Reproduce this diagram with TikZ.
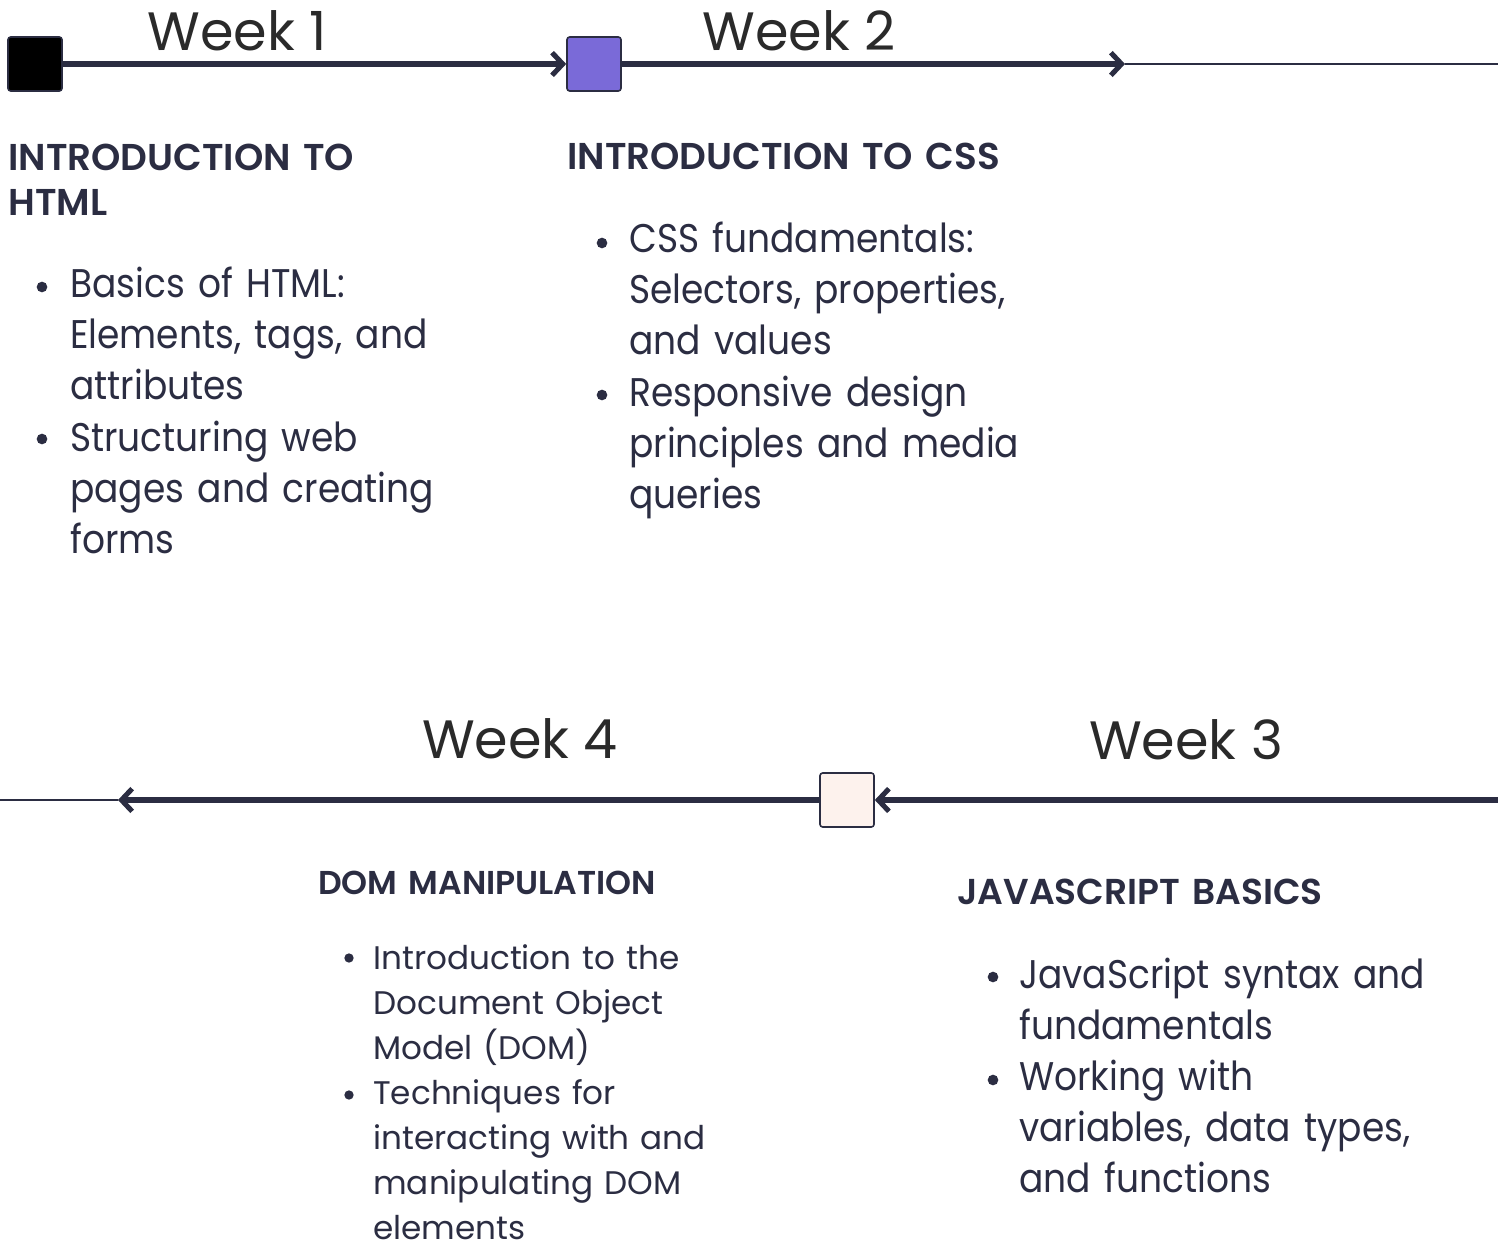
\documentclass[tikz,border=0pt]{standalone}
\usepackage{fontspec}
\setmainfont{Poppins}
\newfontfamily\bodyfont[FakeStretch=0.9]{Poppins}
\newfontfamily\headfont{Poppins SemiBold}
\usetikzlibrary{arrows.meta,positioning}

\definecolor{navy}{RGB}{43,45,66}
\definecolor{weekgray}{RGB}{42,42,42}
\definecolor{lilac}{RGB}{122,106,216}
\definecolor{blush}{RGB}{253,242,237}

\tikzset{
  marker/.style={draw=navy, line width=1.2pt, rounded corners=2pt, minimum size=40.5pt, inner sep=0pt},
  weeklbl/.style={font=\fontsize{40.5}{48}\selectfont, text=weekgray, anchor=base, inner sep=0pt},
  headlbl/.style={font=\headfont\fontsize{28}{33.75}\selectfont, text=navy, anchor=base west,
    inner sep=0pt, text width=400pt, align=left},
  itemlbl/.style={font=\bodyfont\fontsize{30}{38.25}\selectfont, text=navy, anchor=base west,
    inner sep=0pt, text width=400pt, align=left},
  dot/.style={circle, fill=navy, inner sep=0pt, minimum size=8pt},
  thickln/.style={draw=navy, line width=3.8pt, -{Straight Barb[length=8pt,width=17pt]}},
  thinln/.style={draw=navy, line width=1.5pt},
}

\begin{document}
\begin{tikzpicture}[x=0.75pt, y=-0.75pt]
  \useasboundingbox (0,0) rectangle (1498,1244);

  % markers on the timeline
  \node[marker, fill=black] (sq1) at (35,64) {};
  \node[marker, fill=lilac] (sq2) at (594,64) {};
  \node[marker, fill=blush] (sq3) at (847,800) {};
  \coordinate (end2) at (1125,64);
  \coordinate (right2) at (1498,64);
  \coordinate (right3) at (1498,800);
  \coordinate (end4) at (118,800);
  \coordinate (left4) at (0,800);

  \draw[thickln] (sq1) -- (sq2);
  \draw[thickln] (sq2) -- (end2);
  \draw[thinln] (end2) -- (right2);
  \draw[thickln] (right3) -- (sq3);
  \draw[thickln] (sq3) -- (end4);
  \draw[thinln] (end4) -- (left4);

  % week labels
  \node[weeklbl] (wk1) at (237,51) {Week 1};
  \node[weeklbl] (wk2) at (799,51) {Week 2};
  \node[weeklbl] (wk3) at (1186,759) {Week 3};
  \node[weeklbl] (wk4) at (520,758) {Week 4};

  % week 1
  \node[headlbl] (h1) at (8,171) {INTRODUCTION TO\\HTML};
  \node[itemlbl] (i11) at (70,298) {Basics of HTML:\\Elements, tags, and\\attributes};
  \node[itemlbl] (i12) at (70,451) {Structuring web\\pages and creating\\forms};
  \node[dot] (d11) at (42,287) {};
  \node[dot] (d12) at (42,439) {};

  % week 2
  \node[headlbl] (h2) at (567,170) {INTRODUCTION TO CSS};
  \node[itemlbl] (i21) at (629,253) {CSS fundamentals:\\Selectors, properties,\\and values};
  \node[itemlbl] (i22) at (629,406) {Responsive design\\principles and media\\queries};
  \node[dot] (d21) at (602,243) {};
  \node[dot] (d22) at (602,395) {};

  % week 3
  \node[headlbl, font=\headfont\fontsize{27}{33.75}\selectfont] (h3) at (957,904) {JAVASCRIPT BASICS};
  \node[itemlbl] (i31) at (1019,988) {JavaScript syntax and\\fundamentals};
  \node[itemlbl] (i32) at (1019,1090) {Working with\\variables, data types,\\and functions};
  \node[dot] (d31) at (993,977) {};
  \node[dot] (d32) at (993,1080) {};

  % week 4
  \node[headlbl, font=\headfont\fontsize{24.8}{28}\selectfont] (h4) at (318,894) {DOM MANIPULATION};
  \node[itemlbl, font=\fontsize{24.5}{33.75}\selectfont] (i41) at (373,969)
    {Introduction to the\\Document Object\\Model (DOM)};
  \node[itemlbl, font=\fontsize{24.5}{33.75}\selectfont] (i42) at (373,1104)
    {Techniques for\\interacting with and\\manipulating DOM\\elements};
  \node[dot, minimum size=7pt] (d41) at (349,958) {};
  \node[dot, minimum size=7pt] (d42) at (349,1095) {};
\end{tikzpicture}
\end{document}
